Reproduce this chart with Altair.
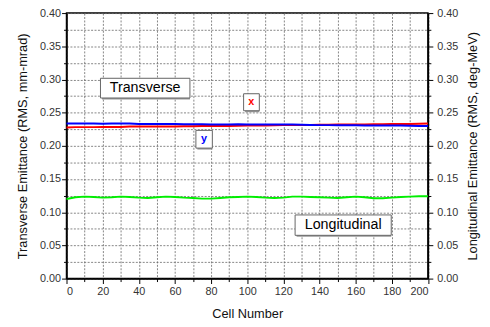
import altair as alt
import pandas as pd

cells = list(range(0, 201, 5))
emit_x = [0.2275, 0.2282, 0.2282, 0.2282, 0.2285, 0.2285, 0.2285, 0.2290, 0.2290, 0.2290,
          0.2292, 0.2292, 0.2292, 0.2295, 0.2295, 0.2298, 0.2298, 0.2300, 0.2300, 0.2303,
          0.2305, 0.2305, 0.2308, 0.2310, 0.2312, 0.2312, 0.2315, 0.2315, 0.2318, 0.2318,
          0.2320, 0.2320, 0.2322, 0.2322, 0.2325, 0.2325, 0.2328, 0.2328, 0.2330, 0.2332, 0.2335]
emit_y = [0.2335, 0.2335, 0.2335, 0.2335, 0.2333, 0.2335, 0.2335, 0.2335, 0.2328, 0.2328,
          0.2328, 0.2328, 0.2328, 0.2325, 0.2325, 0.2325, 0.2322, 0.2322, 0.2322, 0.2325,
          0.2322, 0.2320, 0.2320, 0.2320, 0.2322, 0.2320, 0.2318, 0.2315, 0.2312, 0.2312,
          0.2310, 0.2310, 0.2310, 0.2308, 0.2308, 0.2305, 0.2305, 0.2305, 0.2303, 0.2300, 0.2298]
emit_long = [0.1200, 0.1225, 0.1235, 0.1230, 0.1220, 0.1225, 0.1235, 0.1230, 0.1220, 0.1215,
             0.1225, 0.1235, 0.1230, 0.1220, 0.1215, 0.1205, 0.1205, 0.1215, 0.1225, 0.1230,
             0.1235, 0.1230, 0.1220, 0.1215, 0.1220, 0.1235, 0.1235, 0.1230, 0.1225, 0.1220,
             0.1215, 0.1225, 0.1235, 0.1225, 0.1210, 0.1210, 0.1220, 0.1230, 0.1235, 0.1240, 0.1240]

# annotation boxes (data coordinates)
box_labels = ["Transverse", "x", "y", "Longitudinal"]
box_x1 = [18.8, 98.0, 71.6, 126.5]
box_x2 = [68.3, 106.7, 80.7, 179.7]
box_y1 = [0.2721, 0.2529, 0.1966, 0.0652]
box_y2 = [0.3018, 0.2785, 0.2233, 0.0959]
text_x = [43.5, 102.3, 76.1, 153.1]
text_y = [0.2870, 0.2657, 0.2100, 0.0806]
text_color = ["#000000", "#ff0000", "#0000ff", "#000000"]
text_size = [14.5, 11, 11, 14.5]
text_bold = [False, True, True, False]

FONT = "Arial, Liberation Sans, sans-serif"

df_t = pd.DataFrame({"cell": cells * 2, "val": emit_x + emit_y,
                     "series": ["x"] * len(cells) + ["y"] * len(cells)})
df_l = pd.DataFrame({"cell": cells, "val": emit_long})
df_box = pd.DataFrame({"x1": box_x1, "x2": box_x2, "y1": box_y1, "y2": box_y2})
df_txt = pd.DataFrame({"x": text_x, "y": text_y, "label": box_labels, "color": text_color,
                       "size": text_size, "bold": text_bold})

x_vals = list(range(0, 201, 10))
y_vals = [round(i * 0.025, 3) for i in range(17)]

xscale = alt.Scale(domain=[0, 200], nice=False, zero=False)
yscale = alt.Scale(domain=[0, 0.4], nice=False, zero=False)

common_axis = dict(
    labelFont=FONT, titleFont=FONT, labelFontSize=11, titleFontSize=13,
    labelColor="#333333", titleColor="#111111", titleFontWeight="normal",
    domainColor="black", domainWidth=1.5, tickColor="black", tickWidth=1,
    labelOverlap=False, labelBound=False,
)
grid_style = dict(grid=True, gridColor="#666666", gridDash=[2, 1.5], gridWidth=0.8)

x_axis = alt.Axis(
    values=x_vals, title="Cell Number",
    labelExpr="datum.value % 20 === 0 ? datum.label : ''",
    tickSize={"condition": {"test": "datum.value % 20 === 0", "value": 5}, "value": 3},
    labelPadding=2, titlePadding=12, **grid_style, **common_axis)

ytest = "round(datum.value*1000) % 50 === 0"
y_left_axis = alt.Axis(
    values=y_vals, title="Transverse Emittance (RMS, mm-mrad)",
    labelExpr=f"{ytest} ? format(datum.value, '.2f') : ''",
    tickSize={"condition": {"test": ytest, "value": 5}, "value": 3},
    labelPadding=1, titlePadding=10, **grid_style, **common_axis)

y_right_axis = alt.Axis(
    values=y_vals, title="Longitudinal Emittance (RMS, deg-MeV)", orient="right",
    labelExpr=f"{ytest} ? format(datum.value, '.2f') : ''",
    tickSize={"condition": {"test": ytest, "value": 5}, "value": 3},
    titleAngle=270, titleBaseline="top",
    grid=False, labelPadding=4, titlePadding=9, **common_axis)


def XQ(field):
    return alt.X(field, scale=xscale, axis=x_axis)


def YQ(field):
    return alt.Y(field, scale=yscale, axis=y_left_axis)


trans = alt.Chart(df_t).mark_line(strokeWidth=2).encode(
    x=XQ("cell:Q"),
    y=YQ("val:Q"),
    color=alt.Color("series:N", scale=alt.Scale(domain=["x", "y"], range=["#ff0000", "#0000ff"]),
                    legend=None),
    order=alt.Order("cell:Q"),
)

shadow = alt.Chart(df_box).mark_rect(fill="#999999", xOffset=1.5, yOffset=1.5).encode(
    x=XQ("x1:Q"), x2="x2:Q", y=YQ("y1:Q"), y2="y2:Q")
boxes = alt.Chart(df_box).mark_rect(fill="white", stroke="#666666", strokeWidth=1).encode(
    x=XQ("x1:Q"), x2="x2:Q", y=YQ("y1:Q"), y2="y2:Q")


def text_layer(bold):
    return alt.Chart(df_txt).transform_filter(
        "datum.bold" if bold else "!datum.bold"
    ).mark_text(font=FONT, align="center", baseline="middle",
                fontWeight="bold" if bold else "normal").encode(
        x=XQ("x:Q"),
        y=YQ("y:Q"),
        text="label:N",
        color=alt.Color("color:N", scale=None),
        size=alt.Size("size:Q", scale=None),
    )


left = alt.layer(trans, shadow, boxes, text_layer(False), text_layer(True))

longi = alt.Chart(df_l).mark_line(strokeWidth=2, color="#00ee00").encode(
    x=XQ("cell:Q"),
    y=alt.Y("val:Q", scale=yscale, axis=y_right_axis),
)

chart = alt.layer(left, longi).resolve_scale(y="independent").properties(
    width=367.5, height=270,
    autosize=alt.AutoSizeParams(type="none"),
    padding={"left": 59.5, "top": 2.5, "right": 55, "bottom": 44},
    background="white",
).configure_view(stroke="black", strokeWidth=1.5)

chart.save("out.html", embed_options={"renderer": "svg", "actions": False})
